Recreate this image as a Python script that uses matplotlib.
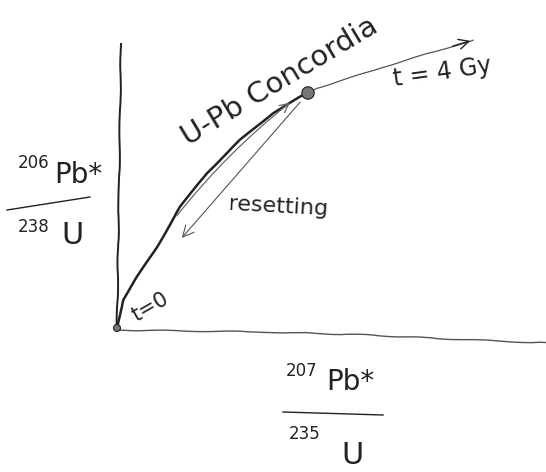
import matplotlib
matplotlib.use("Agg")
import matplotlib.pyplot as plt
import numpy as np

# sketch coordinates (pixels, y downward)
concordia_x = [117, 123, 137, 157, 180, 207, 240, 273, 300, 308]
concordia_y = [328, 300, 277, 247, 207, 173, 140, 113, 97, 93]
future_x = [308, 317, 350, 383, 417, 450, 473]
future_y = [93, 88, 78, 67, 57, 47, 40]
yaxis_x = [121, 119, 117]
yaxis_y = [44, 190, 328]
xaxis_x = [117, 267, 367, 450, 546]
xaxis_y = [330, 332, 335, 339, 343]
dot_x = [117, 308]
dot_y = [328, 93]

fig = plt.figure(figsize=(5.46, 4.72), dpi=100)
ax = fig.add_axes([0, 0, 1, 1])
ax.set_xlim(0, 546)
ax.set_ylim(472, 0)
ax.axis("off")

ink = "#222222"
sk = dict(scale=0.5, length=90, randomness=4)

# axes
l, = ax.plot(yaxis_x, yaxis_y, color=ink, lw=1.4)
l.set_sketch_params(**sk)
l, = ax.plot(xaxis_x, xaxis_y, color="#555555", lw=1.0)
l.set_sketch_params(**sk)

# concordia curve
l, = ax.plot(concordia_x, concordia_y, color=ink, lw=1.8)
l.set_sketch_params(scale=0.3, length=100, randomness=3)
l, = ax.plot(future_x, future_y, color="#555555", lw=0.9)
l.set_sketch_params(**sk)
ax.annotate("", xy=(future_x[-1], future_y[-1]), xytext=(future_x[-2], future_y[-2]),
            arrowprops=dict(arrowstyle="->", color=ink, lw=1.0, mutation_scale=18))

# forward arrow drawn alongside the curve
ax.annotate("", xy=(292, 101), xytext=(175, 218),
            arrowprops=dict(arrowstyle="->", color="#666666", lw=0.9, mutation_scale=16,
                            connectionstyle="arc3,rad=-0.06"))

# resetting arrow
ax.annotate("", xy=(180, 240), xytext=(302, 100),
            arrowprops=dict(arrowstyle="->", color="#555555", lw=0.8, mutation_scale=20))

ax.scatter(dot_x, dot_y, s=[25, 80], color="#777777", edgecolors=ink, linewidths=0.8, zorder=5)

fnt = dict(color=ink, family="DejaVu Sans")
ax.text(280, 82, "U-Pb Concordia", fontsize=21, rotation=31, ha="center", va="center", **fnt)
ax.text(442, 72, "t = 4 Gy", fontsize=17, rotation=8, ha="center", va="center", **fnt)
ax.text(278, 207, "resetting", fontsize=16, rotation=-3, ha="center", va="center", **fnt)
ax.text(150, 307, "t=0", fontsize=15, rotation=30, ha="center", va="center", **fnt)

# y label
ax.text(34, 163, "206", fontsize=12, ha="center", va="center", **fnt)
ax.text(78, 175, "Pb*", fontsize=20, ha="center", va="center", **fnt)
ax.plot([7, 90], [210, 197], color=ink, lw=1.0)
ax.text(34, 227, "238", fontsize=12, ha="center", va="center", **fnt)
ax.text(72, 236, "U", fontsize=22, ha="center", va="center", **fnt)

# x label
ax.text(302, 371, "207", fontsize=12, ha="center", va="center", **fnt)
ax.text(350, 382, "Pb*", fontsize=20, ha="center", va="center", **fnt)
ax.plot([283, 383], [412, 415], color=ink, lw=1.0)
ax.text(305, 434, "235", fontsize=12, ha="center", va="center", **fnt)
ax.text(352, 455, "U", fontsize=22, ha="center", va="center", **fnt)

fig.savefig("out.png", dpi=100, facecolor="white")
